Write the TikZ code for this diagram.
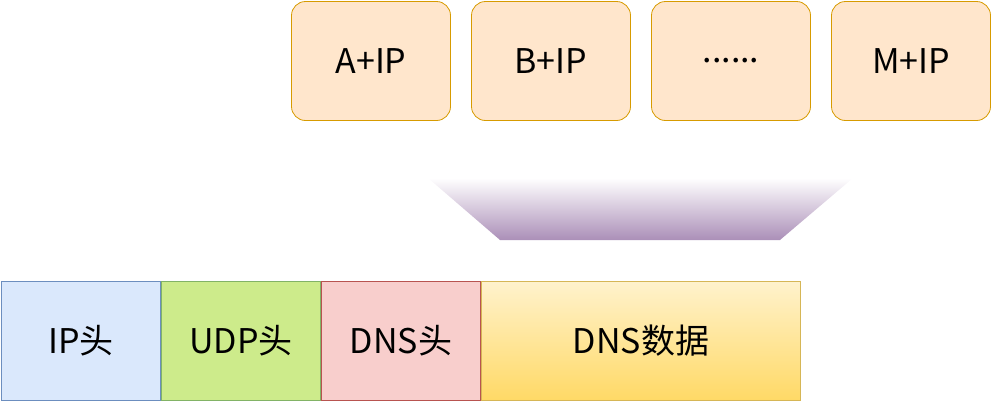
\documentclass[tikz,border=0pt]{standalone}
\usepackage{fontspec}
\setmainfont{Noto Sans CJK SC}
\usetikzlibrary{positioning}
\definecolor{ipfill}{HTML}{DAE8FC}\definecolor{ipline}{HTML}{6C8EBF}
\definecolor{udpfill}{HTML}{CDEB8B}\definecolor{udpline}{HTML}{82B366}
\definecolor{dnsfill}{HTML}{F8CECC}\definecolor{dnsline}{HTML}{B85450}
\definecolor{datatop}{HTML}{FFF2CC}\definecolor{databot}{HTML}{FFD966}\definecolor{dataline}{HTML}{D6B656}
\definecolor{addrfill}{HTML}{FFE6CC}\definecolor{addrline}{HTML}{D79B00}
\definecolor{funnel}{HTML}{9673A6}
\tikzset{
  addr/.style={draw=addrline, fill=addrfill, rounded corners=7pt, minimum width=79.5pt, minimum height=59.5pt, font=\fontsize{17}{20}\selectfont, inner sep=0pt, outer sep=0pt},
  field/.style={minimum height=59.5pt, font=\fontsize{17}{20}\selectfont, inner sep=0pt, outer sep=0pt, line width=0.5pt},
}
\begin{document}
\begin{tikzpicture}[x=0.5pt,y=-0.5pt]
		\useasboundingbox (0,0) rectangle (992,402);
		\node[addr] (a) at (371,61) {A+IP};
		\node[addr] (b) at (551,61) {B+IP};
		\node[addr] (dots) at (731,61) {......};
		\node[addr] (m) at (911,61) {M+IP};
		% funnel
		\shade[top color=white, bottom color=funnel!80] (428,178) -- (853,178) -- (780,240) -- (500,240) -- cycle;
		% packet
		\node[field, draw=ipline, fill=ipfill, minimum width=79.5pt] (ip) at (81,341) {IP头};
		\node[field, draw=udpline, fill=udpfill, minimum width=79.5pt] (udp) at (241,341) {UDP头};
		\node[field, draw=dnsline, fill=dnsfill, minimum width=79.5pt] (dns) at (401,341) {DNS头};
		\node[field, draw=dataline, top color=datatop, bottom color=databot, minimum width=159.5pt] (data) at (641,341) {DNS数据};
	\end{tikzpicture}
\end{document}
